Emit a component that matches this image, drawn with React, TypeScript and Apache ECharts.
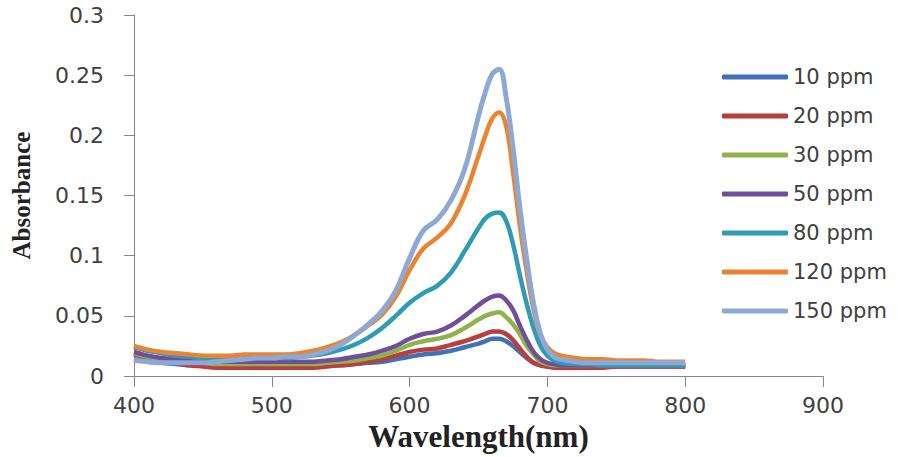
import React, { useEffect, useRef } from "react";
import * as echarts from "echarts";

const wavelengths = [400, 410, 420, 430, 440, 450, 460, 470, 480, 490, 500, 510, 520, 530, 540, 550, 560, 570, 580, 590, 600, 610, 620, 630, 640, 650, 655, 660, 665, 670, 675, 680, 685, 690, 695, 700, 705, 710, 720, 730, 740, 750, 760, 770, 780, 790, 800];

const seriesNames = ["10 ppm", "20 ppm", "30 ppm", "50 ppm", "80 ppm", "120 ppm", "150 ppm"];

const ppm10 = [0.014, 0.012, 0.011, 0.010, 0.009, 0.009, 0.008, 0.008, 0.008, 0.008, 0.008, 0.008, 0.008, 0.008, 0.009, 0.009, 0.010, 0.011, 0.012, 0.014, 0.016, 0.018, 0.019, 0.021, 0.024, 0.027, 0.029, 0.031, 0.031, 0.029, 0.025, 0.020, 0.015, 0.011, 0.009, 0.008, 0.008, 0.008, 0.008, 0.008, 0.008, 0.008, 0.008, 0.008, 0.008, 0.008, 0.008];
const ppm20 = [0.018, 0.015, 0.013, 0.011, 0.009, 0.008, 0.007, 0.007, 0.007, 0.007, 0.007, 0.007, 0.007, 0.007, 0.008, 0.009, 0.010, 0.012, 0.014, 0.017, 0.020, 0.022, 0.023, 0.026, 0.029, 0.033, 0.035, 0.037, 0.037, 0.035, 0.030, 0.023, 0.016, 0.011, 0.009, 0.008, 0.007, 0.007, 0.007, 0.007, 0.007, 0.008, 0.008, 0.008, 0.008, 0.008, 0.008];
const ppm30 = [0.019, 0.016, 0.014, 0.012, 0.011, 0.011, 0.010, 0.010, 0.010, 0.010, 0.010, 0.010, 0.010, 0.010, 0.011, 0.012, 0.013, 0.015, 0.017, 0.021, 0.026, 0.029, 0.031, 0.034, 0.040, 0.047, 0.050, 0.052, 0.053, 0.049, 0.043, 0.035, 0.025, 0.018, 0.012, 0.010, 0.009, 0.009, 0.009, 0.009, 0.009, 0.009, 0.009, 0.009, 0.009, 0.009, 0.009];
const ppm50 = [0.020, 0.017, 0.015, 0.014, 0.013, 0.013, 0.012, 0.012, 0.012, 0.012, 0.012, 0.012, 0.012, 0.012, 0.013, 0.014, 0.016, 0.018, 0.021, 0.025, 0.031, 0.035, 0.037, 0.042, 0.050, 0.059, 0.063, 0.066, 0.067, 0.063, 0.055, 0.042, 0.030, 0.020, 0.014, 0.011, 0.010, 0.009, 0.009, 0.009, 0.009, 0.009, 0.009, 0.009, 0.009, 0.009, 0.009];
const ppm80 = [0.024, 0.021, 0.019, 0.017, 0.016, 0.015, 0.015, 0.015, 0.015, 0.015, 0.015, 0.015, 0.016, 0.017, 0.019, 0.022, 0.026, 0.032, 0.040, 0.050, 0.061, 0.069, 0.075, 0.086, 0.104, 0.123, 0.131, 0.135, 0.136, 0.129, 0.110, 0.084, 0.060, 0.040, 0.025, 0.017, 0.013, 0.011, 0.010, 0.010, 0.009, 0.009, 0.009, 0.009, 0.009, 0.009, 0.009];
const ppm120 = [0.025, 0.022, 0.020, 0.019, 0.018, 0.017, 0.017, 0.017, 0.018, 0.018, 0.018, 0.018, 0.019, 0.021, 0.024, 0.028, 0.034, 0.042, 0.051, 0.066, 0.088, 0.106, 0.115, 0.127, 0.150, 0.183, 0.200, 0.214, 0.219, 0.208, 0.170, 0.125, 0.087, 0.055, 0.034, 0.024, 0.019, 0.017, 0.015, 0.014, 0.014, 0.013, 0.013, 0.013, 0.012, 0.012, 0.012];
const ppm150 = [0.013, 0.012, 0.011, 0.011, 0.011, 0.011, 0.012, 0.013, 0.014, 0.015, 0.015, 0.016, 0.016, 0.018, 0.021, 0.026, 0.034, 0.043, 0.054, 0.071, 0.098, 0.121, 0.130, 0.146, 0.172, 0.216, 0.236, 0.251, 0.255, 0.232, 0.190, 0.140, 0.097, 0.060, 0.035, 0.022, 0.016, 0.014, 0.012, 0.011, 0.011, 0.011, 0.011, 0.011, 0.011, 0.011, 0.011];

const seriesValues = [ppm10, ppm20, ppm30, ppm50, ppm80, ppm120, ppm150];
const colors = ["#3F72B7", "#BA3F3C", "#8FB24B", "#714E9B", "#2E9CB5", "#EB8431", "#8CA8D5"];

export default function App() {
  const ref = useRef<HTMLDivElement>(null);
  useEffect(() => {
    if (!ref.current) return;
    const chart = echarts.init(ref.current, null, { renderer: "svg" });
    chart.setOption({
      animation: false,
      backgroundColor: "#ffffff",
      color: colors,
      grid: { left: 134, right: 75, top: 15, bottom: 79, containLabel: false },
      legend: {
        orient: "vertical",
        left: 717,
        top: 61,
        itemWidth: 66,
        itemHeight: 5,
        itemGap: 17,
        icon: "roundRect",
        data: seriesNames,
        textStyle: { fontFamily: "DejaVu Sans", fontSize: 21, color: "#404040", lineHeight: 22 },
      },
      xAxis: {
        type: "value",
        min: 400,
        max: 900,
        interval: 100,
        name: "Wavelength(nm)",
        nameLocation: "middle",
        nameGap: 39,
        nameTextStyle: { fontFamily: "Liberation Serif", fontWeight: "bold", fontSize: 31, color: "#222" },
        axisLine: { lineStyle: { color: "#868686", width: 1 } },
        axisTick: { length: 11, lineStyle: { color: "#868686" } },
        axisLabel: { margin: 18, fontFamily: "DejaVu Sans", fontSize: 22, color: "#404040" },
        splitLine: { show: false },
      },
      yAxis: {
        type: "value",
        min: 0,
        max: 0.3,
        interval: 0.05,
        name: "Absorbance",
        nameLocation: "middle",
        nameGap: 100,
        nameRotate: 90,
        nameTextStyle: { fontFamily: "Liberation Serif", fontWeight: "bold", fontSize: 25, color: "#222" },
        axisLine: { show: true, lineStyle: { color: "#868686", width: 1 } },
        axisTick: { show: true, length: 10, lineStyle: { color: "#868686" } },
        axisLabel: { margin: 30, fontFamily: "DejaVu Sans", fontSize: 22, color: "#404040" },
        splitLine: { show: false },
      },
      series: seriesNames.map((name, i) => ({
        name,
        type: "line",
        showSymbol: false,
        smooth: 0.4,
        lineStyle: { width: i === 6 ? 5 : 4.5, color: colors[i] },
        itemStyle: { color: colors[i] },
        data: wavelengths.map((w, j) => [w, seriesValues[i][j]]),
      })),
    });
    return () => chart.dispose();
  }, []);
  return <div ref={ref} style={{ width: 898, height: 457, position: "absolute", left: 0, top: 0 }} />;
}
